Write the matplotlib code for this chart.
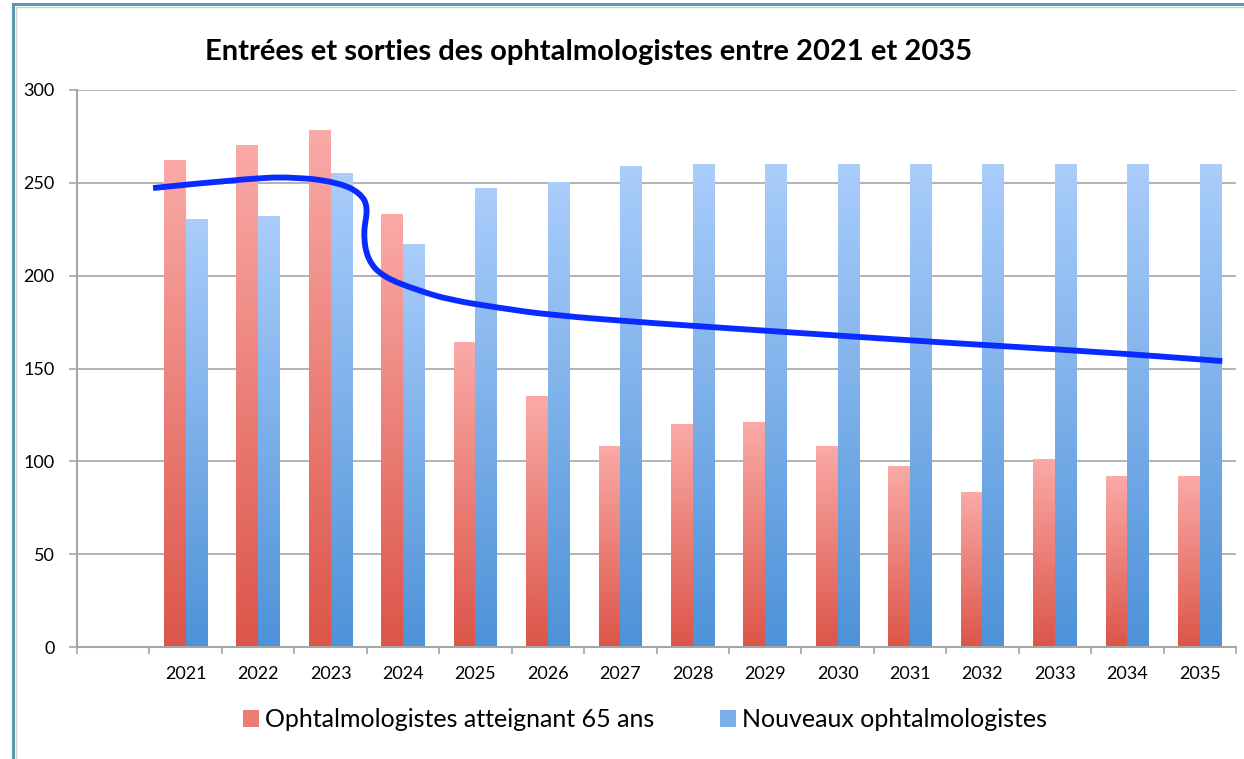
import matplotlib
matplotlib.use("Agg")
import matplotlib.pyplot as plt
import numpy as np
from matplotlib.path import Path
from matplotlib.patches import PathPatch, Rectangle, Patch
from matplotlib.colors import LinearSegmentedColormap

plt.rcParams['font.family'] = ['Lato', 'DejaVu Sans']

# categories: an empty slot comes before 2021 on the original axis
years = ["", "2021", "2022", "2023", "2024", "2025", "2026", "2027", "2028",
         "2029", "2030", "2031", "2032", "2033", "2034", "2035"]
retiring = [None, 262, 270, 278, 233, 164, 135, 108, 120, 121, 108, 97, 83, 101, 92, 92]
new_docs = [None, 230, 232, 255, 217, 247, 250, 259, 260, 260, 260, 260, 260, 260, 260, 260]

# hand drawn trend curve (x in category units, y in values)
curve_x = [0.55, 1.89, 2.58, 3.13, 3.41, 3.52, 3.45, 3.51, 3.73, 4.20, 4.65,
           5.34, 6.03, 7.41, 9.49, 11.56, 13.63, 15.31]
curve_y = [247.2, 252.6, 253.1, 249.9, 244.5, 236.9, 222.9, 208.4, 199.2, 192.2,
           186.9, 182.6, 178.8, 174.5, 169.1, 163.7, 158.9, 154.0]

title = "Entrées et sorties des ophtalmologistes entre 2021 et 2035"
label_red = "Ophtalmologistes atteignant 65 ans"
label_blue = "Nouveaux ophtalmologistes"

red_cmap = LinearSegmentedColormap.from_list("r", ["#DC5549", "#FAAAA7"])
blue_cmap = LinearSegmentedColormap.from_list("b", ["#4E92D8", "#AACDFB"])

fig = plt.figure(figsize=(12.44, 7.59), dpi=100)
ax = fig.add_axes([77 / 1244, 1 - 647 / 759, (1236 - 77) / 1244, (647 - 90) / 759])

idx = np.arange(1, len(years))
w = 0.3
grad = np.linspace(0, 1, 256).reshape(-1, 1)[::-1]
for vals, off, cmap in [(retiring, -w / 2, red_cmap), (new_docs, w / 2, blue_cmap)]:
    heights = [vals[i] for i in idx]
    bars = ax.bar(idx + off, heights, width=w, color="none", zorder=2)
    for b in bars:
        ax.imshow(grad, extent=[b.get_x(), b.get_x() + b.get_width(), 0, b.get_height()],
                  cmap=cmap, aspect="auto", zorder=2, interpolation="bilinear")

# smooth curve through the control points
pts = list(zip(curve_x, curve_y))
verts = [pts[0]]
codes = [Path.MOVETO]
for i in range(1, len(pts) - 1):
    mid = ((pts[i][0] + pts[i + 1][0]) / 2, (pts[i][1] + pts[i + 1][1]) / 2)
    verts += [pts[i], mid]
    codes += [Path.CURVE3, Path.CURVE3]
verts.append(pts[-1])
codes.append(Path.LINETO)
ax.add_patch(PathPatch(Path(verts, codes), facecolor="none", edgecolor="#0A2BFF",
                       lw=4.2, capstyle="butt", zorder=4))

ax.set_xlim(-0.5, len(years) - 0.5)
ax.set_ylim(0, 300)
ax.set_yticks(range(0, 301, 50))
ax.yaxis.grid(True, color="#A6A6A6", lw=1.2)
ax.set_axisbelow(True)

ax.set_xticks(range(len(years)))
ax.set_xticklabels(years, fontsize=13)
ax.set_xticks(np.arange(-0.5, len(years)), minor=True)
ax.tick_params(axis="x", which="major", length=0, pad=14)
ax.tick_params(axis="x", which="minor", length=5, width=1.2, color="#A6A6A6")
ax.tick_params(axis="y", length=6, width=1.2, color="#A6A6A6", labelsize=13, pad=10)

for s in ["top", "right"]:
    ax.spines[s].set_visible(False)
for s in ["left", "bottom"]:
    ax.spines[s].set_color("#A6A6A6")
    ax.spines[s].set_linewidth(1.5)

fig.text(0.4735, 0.931, title, ha="center", va="center", fontsize=21, fontweight="bold")

handles = [Patch(facecolor="#EC7C74", edgecolor="none"),
           Patch(facecolor="#7CB0EC", edgecolor="none")]
fig.legend(handles, [label_red, label_blue], loc="center", bbox_to_anchor=(0.5185, 0.0514),
           ncol=2, frameon=False, fontsize=18, handlelength=0.64, handleheight=0.64,
           handletextpad=0.25, columnspacing=2.6, borderpad=0)

# outer frame, only top and left edges fall inside the picture
fig.patches.append(Rectangle((13 / 1244, -0.05), 1.1, 1 - 4 / 759 + 0.05, transform=fig.transFigure,
                             fill=False, edgecolor="#5E98AE", lw=2.2))
fig.patches.append(Rectangle((16 / 1244, -0.05), 1.1, 1 - 7 / 759 + 0.05, transform=fig.transFigure,
                             fill=False, edgecolor="#C8D4D8", lw=1))

fig.savefig("out.png", dpi=100)
